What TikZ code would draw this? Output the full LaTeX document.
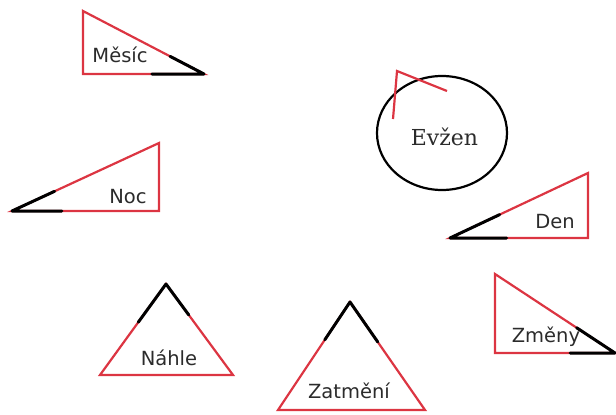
\documentclass[tikz,border=0pt]{standalone}
\usepackage{fontspec}
\usetikzlibrary{calc,shapes.geometric}
\newfontfamily\lblfont{DejaVu Sans}
\newfontfamily\namefont{DejaVu Serif}
\definecolor{tired}{HTML}{DC3542}
\definecolor{ink}{HTML}{2B2B2B}
\tikzset{
  edge/.style={draw=tired, line width=2.2pt, line join=miter},
  tip/.style={draw=black, line width=3pt, line cap=round, line join=round},
  lab/.style={anchor=base, inner sep=0pt, text=ink, font=\lblfont\fontsize{19.5pt}{22pt}\selectfont},
}
\begin{document}
\begin{tikzpicture}[x=1pt, y=-1pt]
  \useasboundingbox (0,0) rectangle (616,415);
  % triangles: sharp corner / other two corners / black shares
  \foreach \vx/\vy/\px/\py/\qx/\qy/\f/\g in {
      204/74/83/11/83/74/0.28/0.43,
      12/211/159/143/159/211/0.29/0.34,
      450/238/588/173/588/238/0.36/0.41,
      615/353/495/274/495/353/0.32/0.375,
      166/284/100/375/233/375/0.42/0.34,
      350/302/278/410/425/410/0.35/0.37} {
    \coordinate (v) at (\vx,\vy);
    \coordinate (p) at (\px,\py);
    \coordinate (q) at (\qx,\qy);
    \draw[edge] (p) -- (v) -- (q) -- cycle;
    \draw[tip] ($(v)!\f!(p)$) -- (v) -- ($(v)!\g!(q)$);
  }
  \node[lab] (mesic) at (120,62) {Měsíc};
  \node[lab] (noc) at (128,203) {Noc};
  \node[lab] (den) at (555,228) {Den};
  \node[lab] (zmeny) at (546,342) {Změny};
  \node[lab] (nahle) at (169,365) {Náhle};
  \node[lab] (zatmeni) at (349,398) {Zatmění};
  % Evzen
  \node[ellipse, draw=black, line width=2.2pt, minimum width=130pt, minimum height=114pt,
    inner sep=0pt] (kruh) at (442,133) {};
  \node[anchor=base, inner sep=0pt, text=ink, font=\namefont\fontsize{22pt}{26pt}\selectfont]
    (evzen) at (444.5,145) {Evžen};
  \coordinate (vl) at (393,119);
  \coordinate (vh) at (397,71);
  \coordinate (vp) at (447,91);
  \draw[edge] (vl) -- (vh) -- (vp);
\end{tikzpicture}
\end{document}
